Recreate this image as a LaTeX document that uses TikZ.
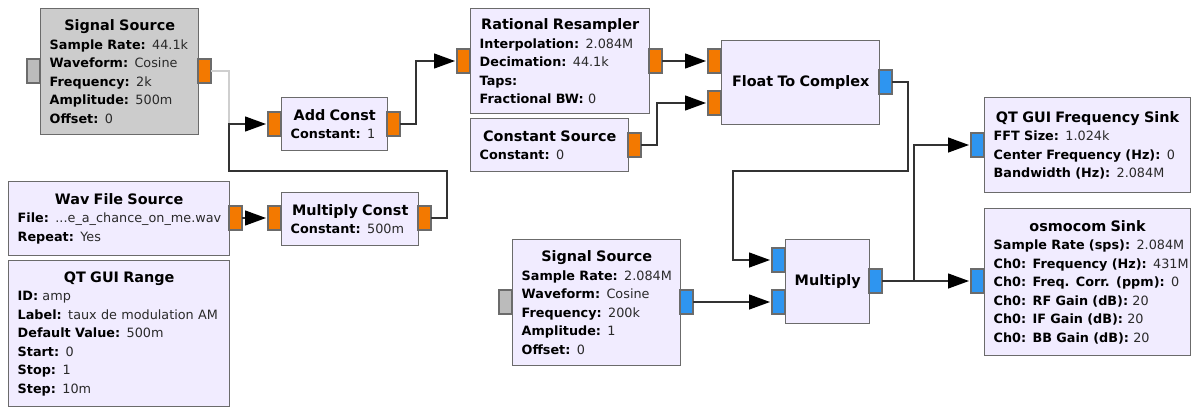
\documentclass[tikz,border=0pt]{standalone}
\usepackage{fontspec}
\setmainfont{DejaVu Sans}
\usepackage{tikz}
\usetikzlibrary{arrows.meta}
\definecolor{blkfill}{HTML}{F1ECFF}
\definecolor{offfill}{HTML}{CCCCCC}
\definecolor{blkline}{HTML}{6B6B6B}
\definecolor{fltport}{HTML}{F37900}
\definecolor{cpxport}{HTML}{2E95F0}
\definecolor{offport}{HTML}{BBBBBB}
\definecolor{wirec}{HTML}{333333}
\definecolor{offwirec}{HTML}{CFCFCF}
\definecolor{valtxt}{HTML}{2A2A2A}
\tikzstyle{blk} = [draw=blkline, fill=blkfill, line width=1.4pt, anchor=north west, inner xsep=9pt, inner ysep=0pt, align=left, font=\fontsize{12.8}{18.5}\selectfont]
\tikzstyle{port} = [draw=blkline, line width=1.2pt, minimum width=13pt, minimum height=24pt, inner sep=0pt, outer sep=0pt]
\tikzstyle{wire} = [draw=wirec, line width=1.3pt, -{Triangle[length=21pt,width=15pt,color=black]}, shorten >=2pt]
\tikzstyle{offwire} = [draw=offwirec, line width=1.3pt]
\newcommand{\ttl}[1]{\makebox[\linewidth]{\fontsize{14.4}{18.5}\selectfont\textbf{#1}}}
\newcommand{\prm}[2]{\mbox{\textbf{#1:} \textcolor{valtxt}{#2}}}

\begin{document}
\begin{tikzpicture}[x=1pt,y=-1pt]
            \useasboundingbox (0,0) rectangle (1191,407);

            % blocks
            \node (sigA) [blk, fill=offfill, text width=140pt, minimum height=126pt] at (40,8)
                {\ttl{Signal Source}\\ \prm{Sample Rate}{44.1k}\\ \prm{Waveform}{Cosine}\\ \prm{Frequency}{2k}\\ \prm{Amplitude}{500m}\\ \prm{Offset}{0}};
            \node (addc) [blk, text width=88pt, minimum height=53pt] at (281,97)
                {\ttl{Add Const}\\ \prm{Constant}{1}};
            \node (mulc) [blk, text width=119pt, minimum height=53pt] at (281,192)
                {\ttl{Multiply Const}\\ \prm{Constant}{500m}};
            \node (wav) [blk, text width=203pt, minimum height=74pt] at (8,181)
                {\ttl{Wav File Source}\\ \prm{File}{...e\_a\_chance\_on\_me.wav}\\ \prm{Repeat}{Yes}};
            \node (range) [blk, text width=203pt, minimum height=146pt] at (8,260)
                {\ttl{QT GUI Range}\\ \prm{ID}{amp}\\ \prm{Label}{taux de modulation AM}\\ \prm{Default Value}{500m}\\ \prm{Start}{0}\\ \prm{Stop}{1}\\ \prm{Step}{10m}};
            \node (resamp) [blk, text width=161pt, minimum height=105pt] at (470,8)
                {\ttl{Rational Resampler}\\ \prm{Interpolation}{2.084M}\\ \prm{Decimation}{44.1k}\\ \prm{Taps}{}\\ \prm{Fractional BW}{0}};
            \node (consts) [blk, text width=140pt, minimum height=53pt] at (470,118)
                {\ttl{Constant Source}\\ \prm{Constant}{0}};
            \node (f2c) [blk, text width=140pt, minimum height=84pt] at (721,40)
                {\ttl{Float To Complex}};
            \node (mult) [blk, text width=66pt, minimum height=84pt] at (785,239)
                {\ttl{Multiply}};
            \node (sigB) [blk, text width=150pt, minimum height=126pt] at (512,239)
                {\ttl{Signal Source}\\ \prm{Sample Rate}{2.084M}\\ \prm{Waveform}{Cosine}\\ \prm{Frequency}{200k}\\ \prm{Amplitude}{1}\\ \prm{Offset}{0}};
            \node (fsink) [blk, text width=188pt, minimum height=95pt] at (984,97)
                {\ttl{QT GUI Frequency Sink}\\ \prm{FFT Size}{1.024k}\\ \prm{Center Frequency (Hz)}{0}\\ \prm{Bandwidth (Hz)}{2.084M}};
            \node (osmo) [blk, text width=188pt, minimum height=147pt] at (984,208)
                {\ttl{osmocom Sink}\\ \prm{Sample Rate (sps)}{2.084M}\\ \prm{Ch0: Frequency (Hz)}{431M}\\ \prm{Ch0: Freq. Corr. (ppm)}{0}\\ \prm{Ch0: RF Gain (dB)}{20}\\ \prm{Ch0: IF Gain (dB)}{20}\\ \prm{Ch0: BB Gain (dB)}{20}};

            % ports
            \node (sigA-in) [port, fill=offport] at (33.5,71) {};
            \node (sigA-out) [port, fill=fltport] at (204.5,71) {};
            \node (addc-in) [port, fill=fltport] at (274.5,124) {};
            \node (addc-out) [port, fill=fltport] at (393.5,124) {};
            \node (mulc-in) [port, fill=fltport] at (274.5,218) {};
            \node (mulc-out) [port, fill=fltport] at (424.5,218) {};
            \node (wav-out) [port, fill=fltport] at (235.5,218) {};
            \node (resamp-in) [port, fill=fltport] at (463.5,61) {};
            \node (resamp-out) [port, fill=fltport] at (655.5,61) {};
            \node (consts-out) [port, fill=fltport] at (634.5,145) {};
            \node (f2c-in0) [port, fill=fltport] at (714.5,61) {};
            \node (f2c-in1) [port, fill=fltport] at (714.5,103) {};
            \node (f2c-out) [port, fill=cpxport] at (885.5,82) {};
            \node (mult-in0) [port, fill=cpxport] at (778.5,260) {};
            \node (mult-in1) [port, fill=cpxport] at (778.5,302) {};
            \node (mult-out) [port, fill=cpxport] at (875.5,281) {};
            \node (sigB-in) [port, fill=offport] at (505.5,302) {};
            \node (sigB-out) [port, fill=cpxport] at (686.5,302) {};
            \node (fsink-in) [port, fill=cpxport] at (977.5,145) {};
            \node (osmo-in) [port, fill=cpxport] at (977.5,281) {};

            % connections
            \coordinate (j1) at (229,124);
            \coordinate (split) at (914,281);
            \draw [offwire] (sigA-out.east) -| (j1);
            \draw [wire] (mulc-out.east) -| (447,171) -| (j1) -- (addc-in.west);
            \draw [wire] (addc-out.east) -- ++(16,0) |- (resamp-in.west);
            \draw [wire] (wav-out) -- (mulc-in);
            \draw [wire] (resamp-out) -- (f2c-in0);
            \draw [wire] (consts-out.east) -- ++(16,0) |- (f2c-in1.west);
            \draw [wire] (f2c-out.east) -| (908,171) -| (733,260) -- (mult-in0.west);
            \draw [wire] (sigB-out) -- (mult-in1);
            \draw [wire] (mult-out) -- (osmo-in);
            \draw [wire] (split) |- (fsink-in.west);
\end{tikzpicture}
\end{document}
